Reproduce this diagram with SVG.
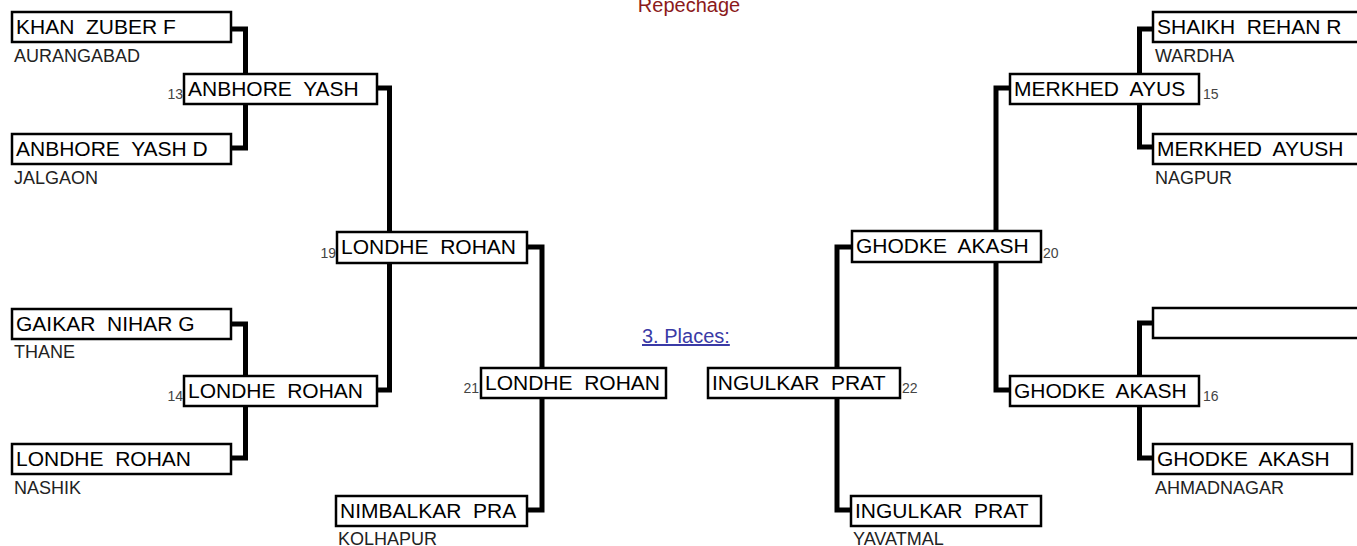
<svg xmlns="http://www.w3.org/2000/svg" width="1357" height="546" viewBox="0 0 1357 546">
<style>
text{font-family:"Liberation Sans",Arial,sans-serif;white-space:pre}
.box{fill:#fff;stroke:#000;stroke-width:2.5}
.nm{font-size:21px;fill:#000}
.city{font-size:18px;fill:#222}
.num{font-size:14px;fill:#444}
.conn{fill:none;stroke:#000;stroke-width:5;stroke-linejoin:miter;stroke-linecap:butt}
</style>
<rect width="1357" height="546" fill="#fff"/>
<text x="689" y="12" text-anchor="middle" style="font-size:20px;fill:#8b1a1a">Repechage</text>
<text x="642" y="343" style="font-size:20px;fill:#3a3aa6;text-decoration:underline">3. Places:</text>
<g id="connectors">
<path class="conn" d="M231,29 H245.5 V148 H231"/>
<path class="conn" d="M231,324 H245.5 V458 H231"/>
<path class="conn" d="M377,88 H389.5 V390 H377"/>
<path class="conn" d="M527,247 H542 V510 H527"/>
<path class="conn" d="M852,247 H837 V510 H851"/>
<path class="conn" d="M1010,88 H996 V390 H1010"/>
<path class="conn" d="M1153,29 H1139.5 V147 H1153"/>
<path class="conn" d="M1153,323 H1139.5 V458 H1153"/>
</g>
<g id="n-khan"><rect class="box" x="12" y="12" width="219" height="30"/><text class="nm" x="16" y="34">KHAN  ZUBER F</text><text class="city" x="14" y="62">AURANGABAD</text></g>
<g id="n-anbhore-d"><rect class="box" x="12" y="134" width="219" height="30"/><text class="nm" x="16" y="156">ANBHORE  YASH D</text><text class="city" x="14" y="184">JALGAON</text></g>
<g id="n-gaikar"><rect class="box" x="12" y="309" width="219" height="30"/><text class="nm" x="16" y="331">GAIKAR  NIHAR G</text><text class="city" x="14" y="358">THANE</text></g>
<g id="n-londhe-r1"><rect class="box" x="12" y="444" width="219" height="30"/><text class="nm" x="16" y="466">LONDHE  ROHAN</text><text class="city" x="14" y="494">NASHIK</text></g>
<g id="n-13"><rect class="box" x="184" y="74" width="193" height="30"/><text class="nm" x="188" y="96">ANBHORE  YASH</text><text class="num" x="183" y="99" text-anchor="end">13</text></g>
<g id="n-14"><rect class="box" x="184" y="376" width="193" height="30"/><text class="nm" x="188" y="398">LONDHE  ROHAN</text><text class="num" x="183" y="401" text-anchor="end">14</text></g>
<g id="n-19"><rect class="box" x="337" y="232" width="190" height="31"/><text class="nm" x="341" y="254">LONDHE  ROHAN</text><text class="num" x="336" y="258" text-anchor="end">19</text></g>
<g id="n-nimbalkar"><rect class="box" x="336" y="496" width="191" height="30"/><text class="nm" x="340" y="518">NIMBALKAR  PRA</text><text class="city" x="338" y="545">KOLHAPUR</text></g>
<g id="n-21"><rect class="box" x="481" y="368" width="185" height="30"/><text class="nm" x="485" y="390">LONDHE  ROHAN</text><text class="num" x="479" y="393" text-anchor="end">21</text></g>
<g id="n-22"><rect class="box" x="708" y="368" width="192" height="30"/><text class="nm" x="712" y="390">INGULKAR  PRAT</text><text class="num" x="902" y="393">22</text></g>
<g id="n-20"><rect class="box" x="852" y="231" width="189" height="31"/><text class="nm" x="856" y="253">GHODKE  AKASH</text><text class="num" x="1043" y="258">20</text></g>
<g id="n-ingulkar"><rect class="box" x="851" y="496" width="190" height="30"/><text class="nm" x="855" y="518">INGULKAR  PRAT</text><text class="city" x="853" y="545">YAVATMAL</text></g>
<g id="n-15"><rect class="box" x="1010" y="74" width="189" height="30"/><text class="nm" x="1014" y="96">MERKHED  AYUS</text><text class="num" x="1203" y="99">15</text></g>
<g id="n-16"><rect class="box" x="1010" y="376" width="189" height="30"/><text class="nm" x="1014" y="398">GHODKE  AKASH</text><text class="num" x="1203" y="401">16</text></g>
<g id="n-shaikh"><rect class="box" x="1153" y="12" width="230" height="30"/><text class="nm" x="1157" y="34">SHAIKH  REHAN R</text><text class="city" x="1155" y="62">WARDHA</text></g>
<g id="n-merkhed-h"><rect class="box" x="1153" y="134" width="230" height="30"/><text class="nm" x="1157" y="156">MERKHED  AYUSH</text><text class="city" x="1155" y="184">NAGPUR</text></g>
<g id="n-empty"><rect class="box" x="1153" y="308" width="230" height="30"/></g>
<g id="n-ghodke-r1"><rect class="box" x="1153" y="444" width="199" height="30"/><text class="nm" x="1157" y="466">GHODKE  AKASH</text><text class="city" x="1155" y="494">AHMADNAGAR</text></g>
</svg>
